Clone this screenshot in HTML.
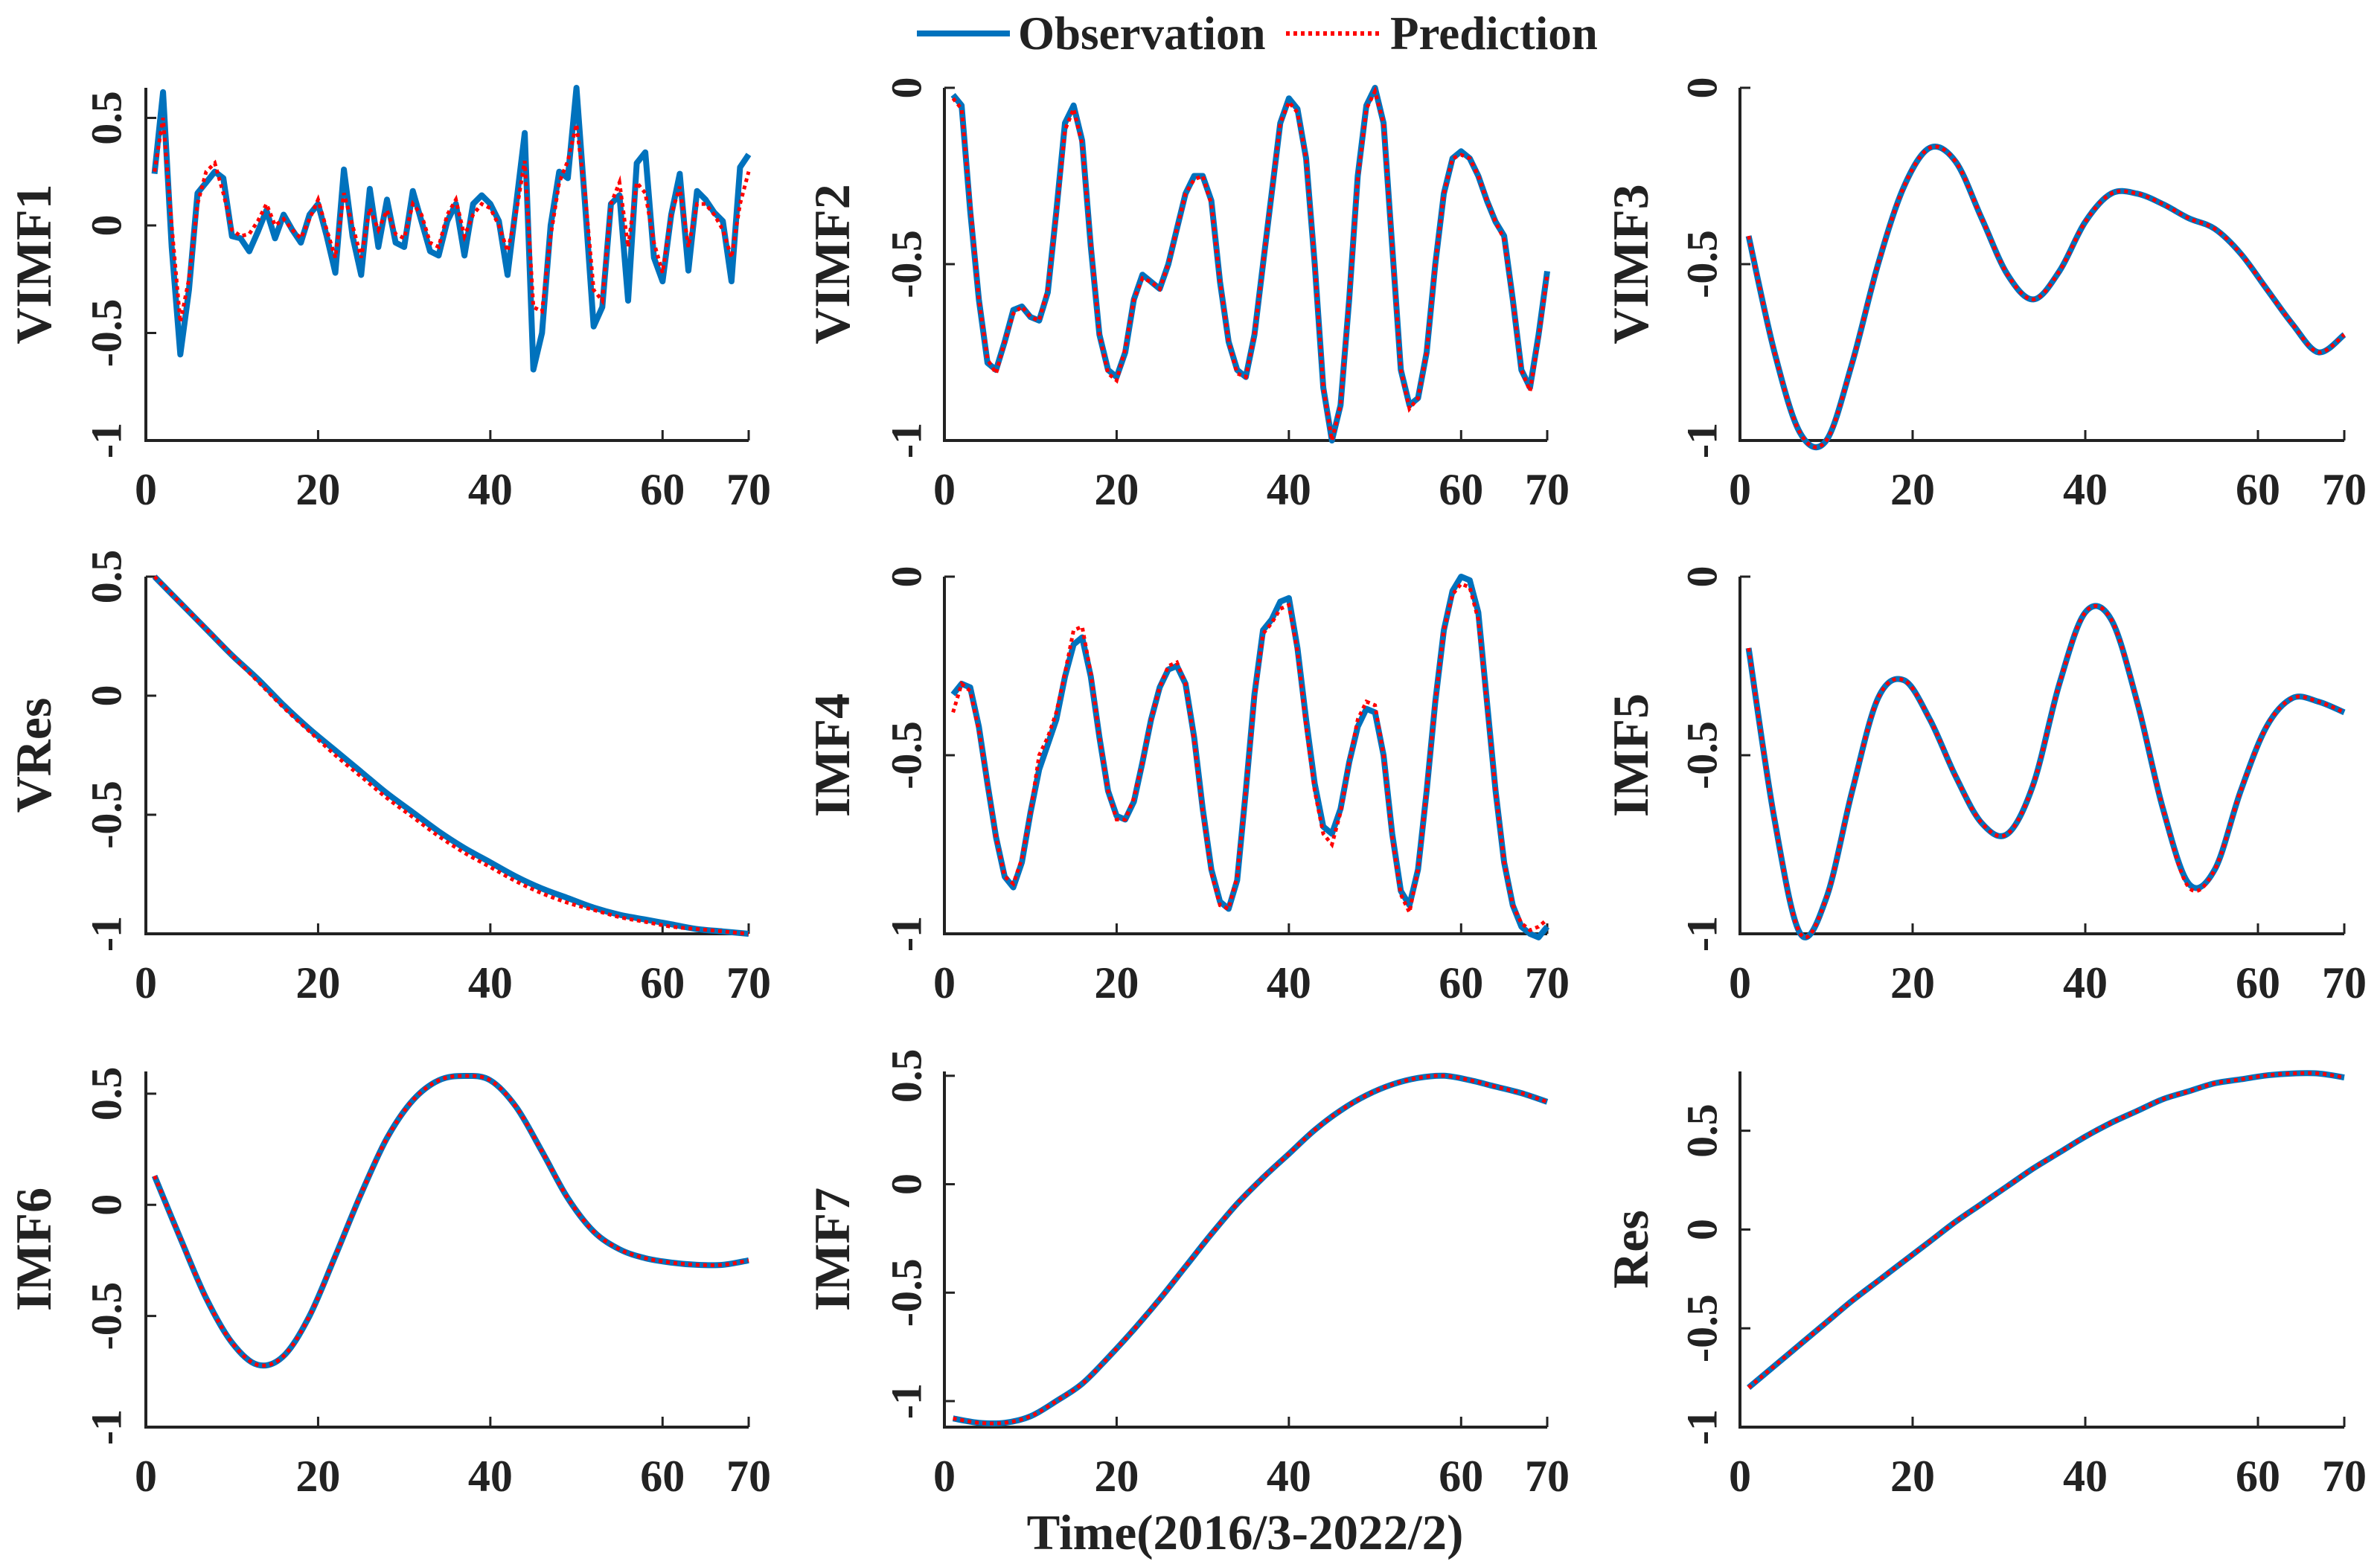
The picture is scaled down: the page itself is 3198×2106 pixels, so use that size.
<!DOCTYPE html>
<html><head><meta charset="utf-8">
<style>
html,body{margin:0;padding:0;background:#fff;}
svg{display:block;}
text{font-family:"Liberation Serif",serif;font-weight:bold;fill:#222;}
</style></head>
<body>
<svg id="fig" width="3198" height="2106" viewBox="0 0 3198 2106" xmlns="http://www.w3.org/2000/svg">
  <g>
    <line x1="1232" y1="45" x2="1357" y2="45" stroke="#0072BD" stroke-width="8"/>
    <text x="1368" y="66" font-size="63">Observation</text>
    <line x1="1728" y1="45" x2="1857" y2="45" stroke="#FF0000" stroke-width="6" stroke-dasharray="5,5"/>
    <text x="1868" y="66" font-size="63">Prediction</text>
  </g>
  <text x="1673" y="2082" font-size="67" text-anchor="middle">Time(2016/3-2022/2)</text>
  <g id="panels"></g>
</svg>
<script>
// ---- data ----
const xTicks = [0, 20, 40, 60, 70];
const xTickLabels = ["0", "20", "40", "60", "70"];
const panelNames = ["VIMF1","VIMF2","VIMF3","VRes","IMF4","IMF5","IMF6","IMF7","Res"];
const yTicksA = [-1, -0.5, 0, 0.5];
const yTicksB = [-1, -0.5, 0];

const vimf1Obs = [0.24,0.62,-0.1,-0.6,-0.3,0.15,0.2,0.25,0.22,-0.05,-0.06,-0.12,-0.03,0.07,-0.06,0.05,-0.02,-0.08,0.05,0.1,-0.05,-0.22,0.26,-0.05,-0.23,0.17,-0.1,0.12,-0.08,-0.1,0.16,0.02,-0.12,-0.14,0.02,0.1,-0.14,0.1,0.14,0.1,0.02,-0.23,0.1,0.43,-0.67,-0.5,0,0.25,0.22,0.64,0.1,-0.47,-0.38,0.1,0.14,-0.35,0.29,0.34,-0.15,-0.26,0.05,0.24,-0.21,0.16,0.12,0.06,0.02,-0.26,0.27,0.33];
const vimf1Pred = [0.25,0.5,0,-0.45,-0.25,0.1,0.25,0.29,0.15,-0.02,-0.05,-0.04,0.02,0.1,0,0.03,-0.02,-0.06,0.03,0.12,-0.02,-0.15,0.15,0,-0.15,0.08,-0.02,0.07,-0.04,-0.06,0.1,0.05,-0.08,-0.1,0.05,0.12,-0.05,0.05,0.1,0.08,0,-0.12,0.06,0.3,-0.38,-0.4,-0.05,0.2,0.3,0.47,0.15,-0.3,-0.35,0.1,0.2,-0.1,0.2,0.15,-0.08,-0.22,0.05,0.18,-0.1,0.1,0.1,0.05,-0.02,-0.15,0.1,0.25];
const vimf2Obs = [-0.02,-0.05,-0.35,-0.6,-0.78,-0.8,-0.72,-0.63,-0.62,-0.65,-0.66,-0.58,-0.35,-0.1,-0.05,-0.15,-0.45,-0.7,-0.8,-0.82,-0.75,-0.6,-0.53,-0.55,-0.57,-0.5,-0.4,-0.3,-0.25,-0.25,-0.32,-0.55,-0.72,-0.8,-0.82,-0.7,-0.5,-0.3,-0.1,-0.03,-0.06,-0.2,-0.5,-0.85,-1.0,-0.9,-0.6,-0.25,-0.05,0,-0.1,-0.45,-0.8,-0.9,-0.88,-0.75,-0.5,-0.3,-0.2,-0.18,-0.2,-0.25,-0.32,-0.38,-0.42,-0.6,-0.8,-0.85,-0.7,-0.52];
const vimf2Pred = [-0.03,-0.06,-0.33,-0.6,-0.77,-0.81,-0.72,-0.64,-0.62,-0.65,-0.66,-0.57,-0.36,-0.12,-0.06,-0.16,-0.44,-0.7,-0.81,-0.83,-0.74,-0.6,-0.54,-0.55,-0.57,-0.5,-0.4,-0.3,-0.26,-0.25,-0.33,-0.55,-0.72,-0.81,-0.82,-0.7,-0.5,-0.3,-0.1,-0.04,-0.07,-0.2,-0.5,-0.85,-1.0,-0.9,-0.6,-0.26,-0.06,-0.01,-0.1,-0.45,-0.8,-0.91,-0.88,-0.75,-0.5,-0.3,-0.2,-0.19,-0.2,-0.25,-0.32,-0.38,-0.43,-0.6,-0.8,-0.86,-0.71,-0.53];
const vimf3Obs = [-0.42,-0.75,-0.98,-1.0,-0.78,-0.5,-0.28,-0.17,-0.21,-0.37,-0.53,-0.6,-0.52,-0.38,-0.3,-0.3,-0.33,-0.37,-0.4,-0.47,-0.57,-0.67,-0.75,-0.7];
const vimf3Pred = [-0.42,-0.75,-0.98,-1.0,-0.78,-0.5,-0.28,-0.17,-0.21,-0.37,-0.53,-0.6,-0.52,-0.38,-0.3,-0.3,-0.33,-0.37,-0.4,-0.47,-0.57,-0.67,-0.75,-0.7];
const vresObs = [0.5,0.39,0.28,0.17,0.07,-0.04,-0.14,-0.23,-0.32,-0.41,-0.49,-0.57,-0.64,-0.7,-0.76,-0.81,-0.85,-0.89,-0.92,-0.94,-0.96,-0.98,-0.99,-1.0];
const vresPred = [0.5,0.39,0.28,0.17,0.06,-0.05,-0.15,-0.25,-0.34,-0.43,-0.51,-0.59,-0.66,-0.72,-0.78,-0.83,-0.87,-0.9,-0.93,-0.95,-0.97,-0.98,-0.99,-1.0];
const imf4Obs = [-0.33,-0.3,-0.31,-0.42,-0.58,-0.73,-0.84,-0.87,-0.8,-0.66,-0.54,-0.47,-0.4,-0.28,-0.19,-0.17,-0.28,-0.45,-0.6,-0.67,-0.68,-0.63,-0.52,-0.4,-0.31,-0.26,-0.25,-0.3,-0.45,-0.65,-0.82,-0.91,-0.93,-0.85,-0.6,-0.33,-0.15,-0.12,-0.07,-0.06,-0.2,-0.4,-0.58,-0.7,-0.72,-0.65,-0.52,-0.42,-0.37,-0.38,-0.5,-0.72,-0.88,-0.92,-0.82,-0.6,-0.35,-0.15,-0.04,0,-0.01,-0.1,-0.35,-0.6,-0.8,-0.92,-0.98,-1.0,-1.01,-0.98];
const imf4Pred = [-0.38,-0.3,-0.32,-0.43,-0.58,-0.73,-0.84,-0.86,-0.79,-0.66,-0.5,-0.45,-0.38,-0.27,-0.15,-0.14,-0.27,-0.45,-0.6,-0.68,-0.68,-0.62,-0.52,-0.4,-0.31,-0.25,-0.24,-0.3,-0.46,-0.66,-0.83,-0.92,-0.93,-0.84,-0.6,-0.34,-0.16,-0.13,-0.09,-0.08,-0.21,-0.42,-0.6,-0.72,-0.75,-0.66,-0.52,-0.4,-0.35,-0.36,-0.5,-0.73,-0.89,-0.94,-0.82,-0.6,-0.35,-0.15,-0.05,-0.02,-0.03,-0.12,-0.36,-0.6,-0.8,-0.92,-0.97,-0.99,-0.98,-0.96];
const imf5Obs = [-0.2,-0.68,-1.0,-0.9,-0.6,-0.34,-0.29,-0.4,-0.56,-0.69,-0.72,-0.58,-0.3,-0.1,-0.12,-0.35,-0.65,-0.86,-0.82,-0.6,-0.42,-0.34,-0.35,-0.38];
const imf5Pred = [-0.2,-0.68,-1.0,-0.9,-0.6,-0.34,-0.29,-0.4,-0.56,-0.69,-0.72,-0.58,-0.3,-0.1,-0.12,-0.35,-0.65,-0.87,-0.82,-0.6,-0.42,-0.34,-0.35,-0.38];
const imf6Obs = [0.13,-0.15,-0.42,-0.62,-0.72,-0.68,-0.5,-0.23,0.05,0.3,0.47,0.56,0.58,0.56,0.44,0.24,0.03,-0.12,-0.2,-0.24,-0.26,-0.27,-0.27,-0.25];
const imf6Pred = [0.13,-0.15,-0.42,-0.62,-0.72,-0.68,-0.5,-0.23,0.05,0.3,0.47,0.56,0.58,0.56,0.44,0.24,0.03,-0.12,-0.2,-0.24,-0.26,-0.27,-0.27,-0.25];
const imf7Obs = [-1.08,-1.1,-1.1,-1.07,-1.0,-0.92,-0.8,-0.67,-0.53,-0.38,-0.23,-0.09,0.03,0.14,0.25,0.34,0.41,0.46,0.49,0.5,0.48,0.45,0.42,0.38];
const imf7Pred = [-1.08,-1.1,-1.1,-1.07,-1.0,-0.92,-0.8,-0.67,-0.53,-0.38,-0.23,-0.09,0.03,0.14,0.25,0.34,0.41,0.46,0.49,0.5,0.48,0.45,0.42,0.38];
const resObs = [-0.8,-0.69,-0.58,-0.47,-0.36,-0.26,-0.16,-0.06,0.04,0.13,0.22,0.31,0.39,0.47,0.54,0.6,0.66,0.7,0.74,0.76,0.78,0.79,0.79,0.77];
const resPred = [-0.8,-0.69,-0.58,-0.47,-0.36,-0.26,-0.16,-0.06,0.04,0.13,0.22,0.31,0.39,0.47,0.54,0.6,0.66,0.7,0.74,0.76,0.78,0.79,0.79,0.77];

// ---- layout ----
const colX = [[196,1006],[1269,2079],[2338,3150]];
const rowY = [[118,592],[775,1255],[1440,1918]];
const labelX = [45,1118,2191];
const tickLabelX = [143,1218,2287];

const panels = [
  {obs:vimf1Obs,pred:vimf1Pred,step:1,smooth:false,ymin:-1,ymax:0.64,yt:yTicksA},
  {obs:vimf2Obs,pred:vimf2Pred,step:1,smooth:false,ymin:-1,ymax:0,yt:yTicksB},
  {obs:vimf3Obs,pred:vimf3Pred,step:3,smooth:true,ymin:-1,ymax:0,yt:yTicksB},
  {obs:vresObs,pred:vresPred,step:3,smooth:true,ymin:-1,ymax:0.5,yt:yTicksA},
  {obs:imf4Obs,pred:imf4Pred,step:1,smooth:false,ymin:-1,ymax:0,yt:yTicksB},
  {obs:imf5Obs,pred:imf5Pred,step:3,smooth:true,ymin:-1,ymax:0,yt:yTicksB},
  {obs:imf6Obs,pred:imf6Pred,step:3,smooth:true,ymin:-1,ymax:0.6,yt:yTicksA},
  {obs:imf7Obs,pred:imf7Pred,step:3,smooth:true,ymin:-1.12,ymax:0.52,yt:yTicksA},
  {obs:resObs,pred:resPred,step:3,smooth:true,ymin:-1,ymax:0.8,yt:yTicksA}
];

const NS = "http://www.w3.org/2000/svg";
const root = document.getElementById("panels");
function mk(tag, attrs, parent){
  const e = document.createElementNS(NS, tag);
  for (const k in attrs) e.setAttribute(k, attrs[k]);
  parent.appendChild(e);
  return e;
}
function pathFor(pts, smooth){
  if (!smooth) return "M" + pts.map(p => p[0].toFixed(1)+","+p[1].toFixed(1)).join("L");
  let d = "M" + pts[0][0].toFixed(1) + "," + pts[0][1].toFixed(1);
  for (let i=0;i<pts.length-1;i++){
    const p0=pts[Math.max(0,i-1)], p1=pts[i], p2=pts[i+1], p3=pts[Math.min(pts.length-1,i+2)];
    const c1=[p1[0]+(p2[0]-p0[0])/6, p1[1]+(p2[1]-p0[1])/6];
    const c2=[p2[0]-(p3[0]-p1[0])/6, p2[1]-(p3[1]-p1[1])/6];
    d += "C"+c1[0].toFixed(1)+","+c1[1].toFixed(1)+" "+c2[0].toFixed(1)+","+c2[1].toFixed(1)+" "+p2[0].toFixed(1)+","+p2[1].toFixed(1);
  }
  return d;
}

panels.forEach((p, i) => {
  const c = i % 3, r = Math.floor(i / 3);
  const [x0, x1] = colX[c], [y0, y1] = rowY[r];
  const xs = v => x0 + (v / 70) * (x1 - x0);
  const ys = v => y1 - (v - p.ymin) / (p.ymax - p.ymin) * (y1 - y0);
  const name = panelNames[i].toLowerCase();
  const g = mk("g", {}, root);
  
  

  const yl = mk("text", {x: labelX[c], y: (y0+y1)/2, "font-size": 68, "text-anchor": "middle", "dominant-baseline": "central", transform: "rotate(-90 "+labelX[c]+" "+((y0+y1)/2)+")"}, g);
  yl.textContent = panelNames[i];
  
  

  p.yt.forEach(t => {
    const y = ys(t);
    const tk = mk("line", {x1: x0, y1: y, x2: x0 + 14, y2: y, stroke: "#222", "stroke-width": 3}, g);
    
    
    const tl = mk("text", {x: tickLabelX[c], y: y, "font-size": 58, "text-anchor": "middle", "dominant-baseline": "central", transform: "rotate(-90 "+tickLabelX[c]+" "+y+")"}, g);
    tl.textContent = String(t);
    
    
  });
  xTicks.forEach((t, k) => {
    const x = xs(t);
    const tk = mk("line", {x1: x, y1: y1, x2: x, y2: y1 - 14, stroke: "#222", "stroke-width": 3}, g);
    
    
    const tl = mk("text", {x: x, y: y1 + 86, "font-size": 60, "text-anchor": "middle"}, g);
    tl.textContent = xTickLabels[k];
    
    
  });
  const ax = mk("path", {d: "M"+x0+","+y0+"L"+x0+","+y1+"L"+x1+","+y1, fill: "none", stroke: "#222", "stroke-width": 4}, g);
  
  

  const ptsO = p.obs.map((v, k) => [xs(1 + k * p.step), ys(v)]);
  const ptsP = p.pred.map((v, k) => [xs(1 + k * p.step), ys(v)]);
  const lo = mk("path", {d: pathFor(ptsO, p.smooth), fill: "none", stroke: "#0072BD", "stroke-width": 8, "stroke-linejoin": "round"}, g);
  
  
  const lp = mk("path", {d: pathFor(ptsP, p.smooth), fill: "none", stroke: "#FF0000", "stroke-width": 5, "stroke-dasharray": "5,5"}, g);
  
  
});
</script>
</body></html>
